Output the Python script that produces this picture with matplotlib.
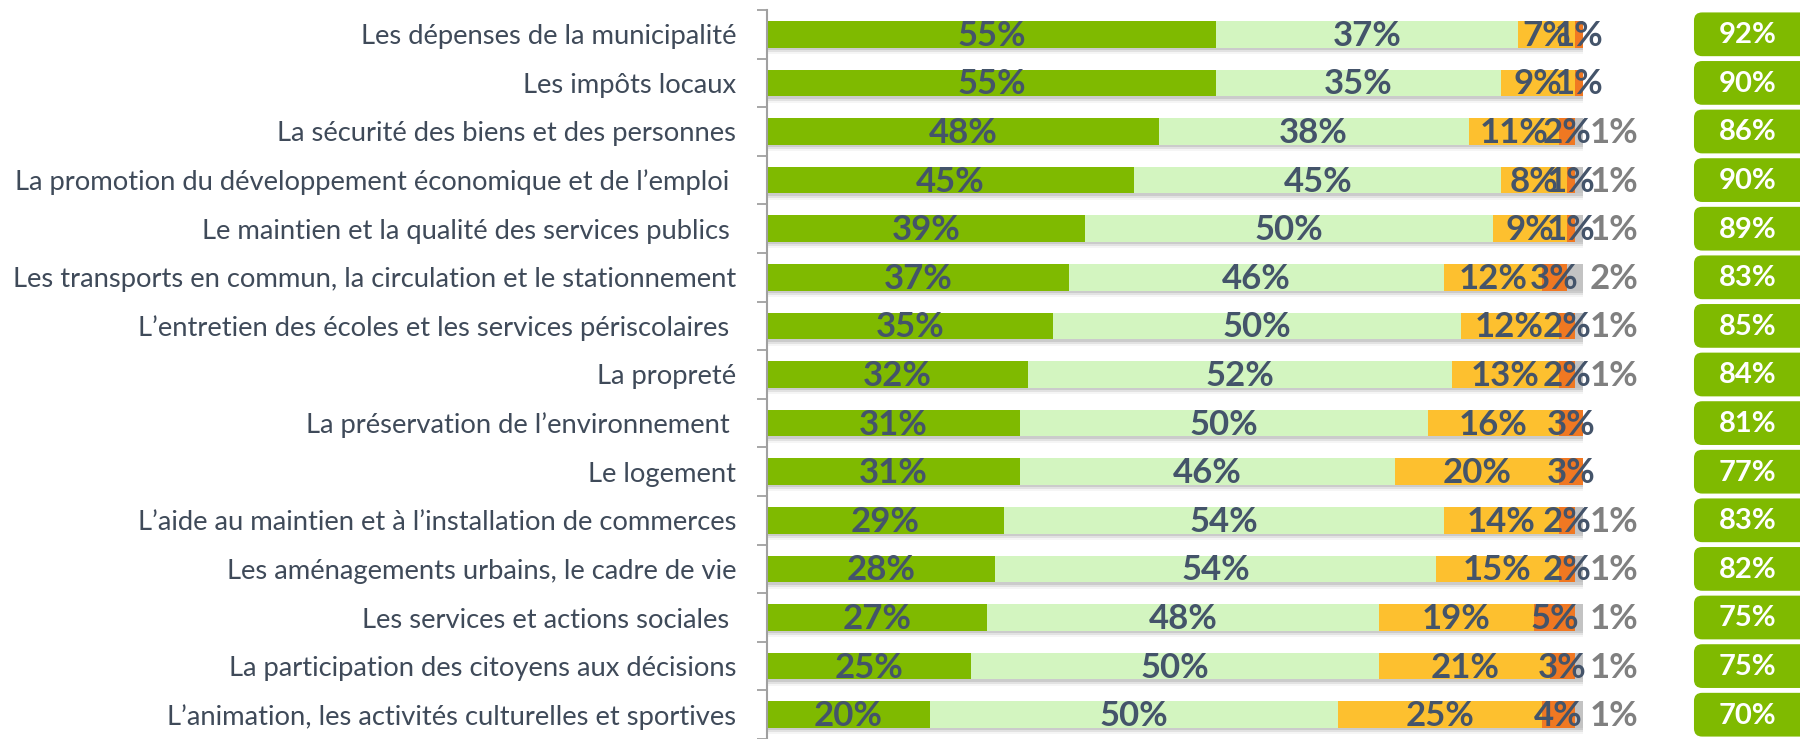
import numpy as np
import matplotlib.pyplot as plt
from matplotlib.patches import FancyBboxPatch

plt.rcParams['font.family'] = ['Lato', 'DejaVu Sans']

categories = [
    "Les dépenses de la municipalité",
    "Les impôts locaux",
    "La sécurité des biens et des personnes",
    "La promotion du développement économique et de l’emploi ",
    "Le maintien et la qualité des services publics ",
    "Les transports en commun, la circulation et le stationnement",
    "L’entretien des écoles et les services périscolaires ",
    "La propreté",
    "La préservation de l’environnement ",
    "Le logement",
    "L’aide au maintien et à l’installation de commerces",
    "Les aménagements urbains, le cadre de vie",
    "Les services et actions sociales ",
    "La participation des citoyens aux décisions",
    "L’animation, les activités culturelles et sportives",
]
tres_satisf = [55, 55, 48, 45, 39, 37, 35, 32, 31, 31, 29, 28, 27, 25, 20]
assez_satisf = [37, 35, 38, 45, 50, 46, 50, 52, 50, 46, 54, 54, 48, 50, 50]
peu_satisf = [7, 9, 11, 8, 9, 12, 12, 13, 16, 20, 14, 15, 19, 21, 25]
pas_satisf = [1, 1, 2, 1, 1, 3, 2, 2, 3, 3, 2, 2, 5, 3, 4]
nsp = [0, 0, 1, 1, 1, 2, 1, 1, 0, 0, 1, 1, 1, 1, 1]
total_satisf = [92, 90, 86, 90, 89, 83, 85, 84, 81, 77, 83, 82, 75, 75, 70]

series = [tres_satisf, assez_satisf, peu_satisf, pas_satisf, nsp]
colors = ['#7FBA00', '#D3F5C0', '#FDC02F', '#F07822', '#C3C3C3']
dark = '#44546A'

fig = plt.figure(figsize=(18, 7.39), dpi=100)
ax = fig.add_axes([767 / 1800, 0, 816 / 1800, 729 / 739])

y = np.arange(len(categories))
h = 0.55

# soft shadow under each bar
for k, a in zip([0.05, 0.09, 0.13], [0.18, 0.12, 0.06]):
    ax.barh(y + k, 100.6, height=h, left=0, color='#606060', alpha=a, zorder=1)

left = np.zeros(len(categories))
for i, (vals, col) in enumerate(zip(series, colors)):
    vals = np.array(vals)
    ax.barh(y, vals, height=h, left=left, color=col, zorder=2)
    for j, v in enumerate(vals):
        if v == 0:
            continue
        if i == 4:
            ax.text(100.8, j + 0.03, f"{v}%", ha='left', va='center',
                    fontsize=25, fontweight='bold', color='#808080', zorder=4)
        else:
            ax.text(left[j] + v / 2, j + 0.03, f"{v}%", ha='center', va='center',
                    fontsize=25, fontweight='bold', color=dark, zorder=4)
    left += vals

# total satisfaction boxes on the right
for j, t in enumerate(total_satisf):
    box = FancyBboxPatch((113.6, j - 0.45), 20, 0.9,
                         boxstyle="round,pad=0,rounding_size=1.0",
                         mutation_aspect=8.16 / 48.86,
                         facecolor='#7FBA00', edgecolor='none',
                         clip_on=False, zorder=3)
    ax.add_patch(box)
    ax.text(120.2, j + 0.02, f"{t}%", ha='center', va='center',
            fontsize=21, fontweight='bold', color='white', zorder=4)

ax.set_xlim(0, 100)
ax.set_ylim(14.42, -0.5)
for s in ['top', 'right', 'bottom']:
    ax.spines[s].set_visible(False)
ax.spines['left'].set_color('#A0A0A0')
ax.spines['left'].set_linewidth(1.5)
ax.set_xticks([])
ax.set_yticks(y)
ax.set_yticklabels(categories, fontsize=19.7, color='#3F4A59')
ax.tick_params(axis='y', which='major', length=0, pad=22)
ax.set_yticks(np.arange(-0.5, 15, 1), minor=True)
ax.tick_params(axis='y', which='minor', length=7, width=1.3, color='#A0A0A0')

fig.savefig('out.png', dpi=100)
